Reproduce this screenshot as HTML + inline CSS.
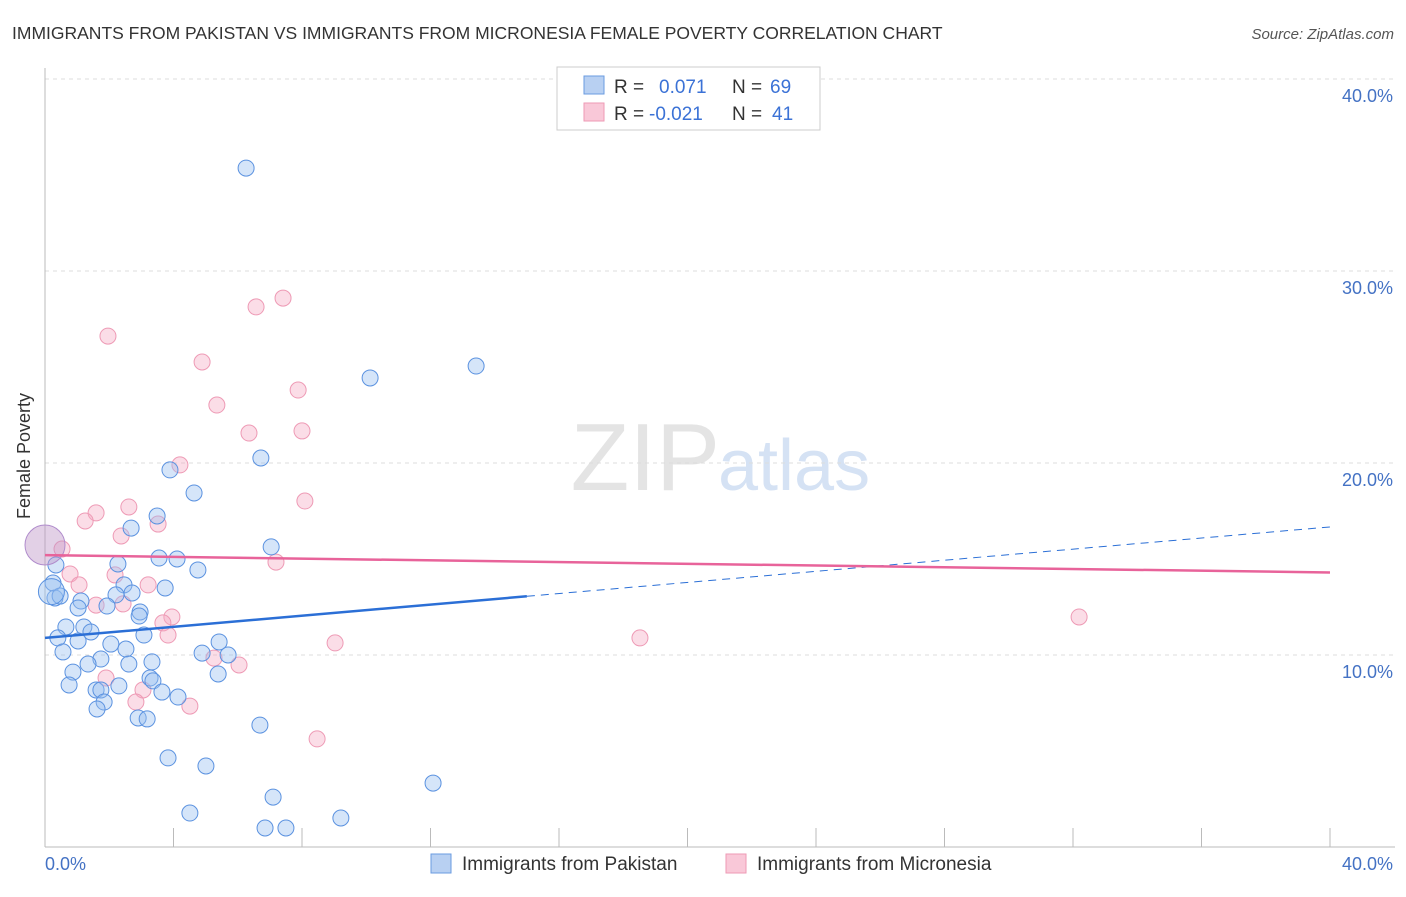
<!DOCTYPE html>
<html><head><meta charset="utf-8"><style>
body{margin:0;background:#fff;font-family:"Liberation Sans",sans-serif;}
svg text{font-family:"Liberation Sans",sans-serif;}
</style></head><body>
<svg width="1406" height="892" viewBox="0 0 1406 892">
<text x="12" y="39" font-size="17.5" fill="#333">IMMIGRANTS FROM PAKISTAN VS IMMIGRANTS FROM MICRONESIA FEMALE POVERTY CORRELATION CHART</text>
<text x="1394" y="39" font-size="15" fill="#555" font-style="italic" text-anchor="end">Source: ZipAtlas.com</text>
<text x="720" y="490" font-size="96" fill="#e4e4e4" text-anchor="end" font-family="Liberation Serif">ZIP</text>
<text x="718" y="490" font-size="72" fill="#d5e2f4">atlas</text>
<g id="grid"></g>
<line x1="45" y1="68" x2="45" y2="847" stroke="#bbb"/>
<line x1="45" y1="847" x2="1395" y2="847" stroke="#bbb"/>
<text x="30" y="456" font-size="18" fill="#333" text-anchor="middle" transform="rotate(-90 30 456)">Female Poverty</text>
<text x="45" y="870" font-size="18" fill="#4472c4">0.0%</text>
<text x="1393" y="870" font-size="18" fill="#4472c4" text-anchor="end">40.0%</text>
<g id="marks"></g>
<g>
<rect x="557" y="67" width="263" height="63" fill="#fff" stroke="#ccc"/>
<rect x="584" y="76" width="20" height="18" fill="#b8d0f2" stroke="#6a9be0"/>
<rect x="584" y="103" width="20" height="18" fill="#f9c8d8" stroke="#ee9ab5"/>
<text x="614" y="93" font-size="19" fill="#333">R = <tspan fill="#3b72d6" x="659">0.071</tspan><tspan x="732" fill="#333">N =</tspan><tspan x="770" fill="#3b72d6">69</tspan></text>
<text x="614" y="120" font-size="19" fill="#333">R = <tspan fill="#3b72d6" x="649">-0.021</tspan><tspan x="732" fill="#333">N =</tspan><tspan x="772" fill="#3b72d6">41</tspan></text>
</g>
<g>
<rect x="431" y="854" width="20" height="19" fill="#b8d0f2" stroke="#6a9be0"/>
<text x="462" y="870" font-size="19" fill="#333">Immigrants from Pakistan</text>
<rect x="726" y="854" width="20" height="19" fill="#f9c8d8" stroke="#ee9ab5"/>
<text x="757" y="870" font-size="19" fill="#333">Immigrants from Micronesia</text>
</g>
</svg>
<script>
const yTicks=[10,20,30,40];
const yTickLabels=["10.0%","20.0%","30.0%","40.0%"];
const xTicks=[0,4,8,12,16,20,24,28,32,36,40];
const pakX=[6.26,13.42,10.12,6.72,3.89,4.64,3.49,2.68,7.04,3.55,4.11,2.27,4.76,0.34,0.25,0.31,2.46,2.71,2.21,3.74,1.12,1.93,2.96,2.93,0.65,1.21,1.43,0.4,1.03,3.08,2.05,5.42,2.52,0.56,1.74,1.34,3.33,2.61,0.87,4.89,5.7,5.39,3.27,3.36,0.75,1.59,1.74,2.3,3.64,4.14,1.84,1.62,2.9,3.18,6.69,3.83,5.01,12.08,7.1,4.51,9.21,6.85,7.5,0.47,1.03];
const pakY=[35.36,25.05,24.43,20.26,19.64,18.44,17.24,16.61,15.63,15.05,15.0,14.74,14.43,14.69,13.75,12.97,13.65,13.23,13.13,13.49,12.81,12.55,12.24,12.03,11.46,11.46,11.2,10.89,10.73,11.04,10.57,10.68,10.31,10.16,9.79,9.53,9.64,9.53,9.11,10.1,10.0,9.01,8.8,8.65,8.44,8.18,8.18,8.39,8.07,7.81,7.55,7.19,6.72,6.67,6.35,4.64,4.22,3.33,2.6,1.77,1.51,0.99,0.99,13.07,12.45];
const micX=[1.96,6.57,7.41,4.89,7.88,5.35,6.35,8.0,4.2,8.09,2.61,1.59,1.25,3.52,2.37,7.19,0.53,0.78,1.06,2.18,3.21,3.95,1.59,3.67,3.83,9.03,18.52,32.19,1.9,3.05,5.26,6.04,2.83,4.51,8.47,2.43];
const micY=[26.61,28.13,28.59,25.26,23.8,23.02,21.56,21.67,19.9,18.02,17.71,17.4,16.98,16.82,16.2,14.84,15.52,14.22,13.65,14.17,13.65,11.98,12.6,11.67,11.04,10.63,10.89,11.98,8.8,8.18,9.84,9.48,7.55,7.34,5.63,12.66];
const pakTrend=[10.89,16.67]; const pakSolidEnd=15;
const micTrend=[15.2,14.3];
const X=v=>45+v*32.125, Y=v=>847-v*19.2;
const NS="http://www.w3.org/2000/svg";
const grid=document.getElementById('grid'), marks=document.getElementById('marks');
function mk(tag,attrs,parent){const e=document.createElementNS(NS,tag);for(const k in attrs)e.setAttribute(k,attrs[k]);parent.appendChild(e);return e;}
yTicks.forEach((t,i)=>{
 const l=mk('line',{x1:45,x2:1395,y1:Y(t),y2:Y(t),stroke:'#ddd','stroke-dasharray':'4,4'},grid);
 
 
 const tx=mk('text',{x:1393,y:Y(t)+23,'font-size':18,fill:'#4472c4','text-anchor':'end'},grid);
 tx.textContent=yTickLabels[i];
 
 
});
xTicks.forEach(t=>{
 const l=mk('line',{x1:X(t),x2:X(t),y1:828,y2:847,stroke:'#bbb'},grid);
 
 
});
micX.forEach((x,i)=>{
 const c=mk('circle',{cx:X(x),cy:Y(micY[i]),r:8,fill:'rgba(246,170,196,0.4)',stroke:'#ee9ab5','stroke-width':1},marks);
 
 
});
pakX.forEach((x,i)=>{
 const c=mk('circle',{cx:X(x),cy:Y(pakY[i]),r:8,fill:'rgba(150,190,240,0.4)',stroke:'#5b92e0','stroke-width':1},marks);
 
 
});
const big=mk('circle',{cx:X(0),cy:Y(15.73),r:20,fill:'rgba(190,150,200,0.45)',stroke:'#b08ccc'},marks);


const big2=mk('circle',{cx:X(0.2),cy:Y(13.3),r:13,fill:'rgba(150,190,240,0.45)',stroke:'#5b92e0'},marks);


const py=x=>pakTrend[0]+(pakTrend[1]-pakTrend[0])*x/40;
const l1=mk('line',{x1:X(0),y1:Y(py(0)),x2:X(pakSolidEnd),y2:Y(py(pakSolidEnd)),stroke:'#2b6fd6','stroke-width':2.5},marks);


const l2=mk('line',{x1:X(pakSolidEnd),y1:Y(py(pakSolidEnd)),x2:X(40),y2:Y(py(40)),stroke:'#2b6fd6','stroke-width':1,'stroke-dasharray':'8,6'},marks);


const l3=mk('line',{x1:X(0),y1:Y(micTrend[0]),x2:X(40),y2:Y(micTrend[1]),stroke:'#e8639a','stroke-width':2.5},marks);


</script>
</body></html>
